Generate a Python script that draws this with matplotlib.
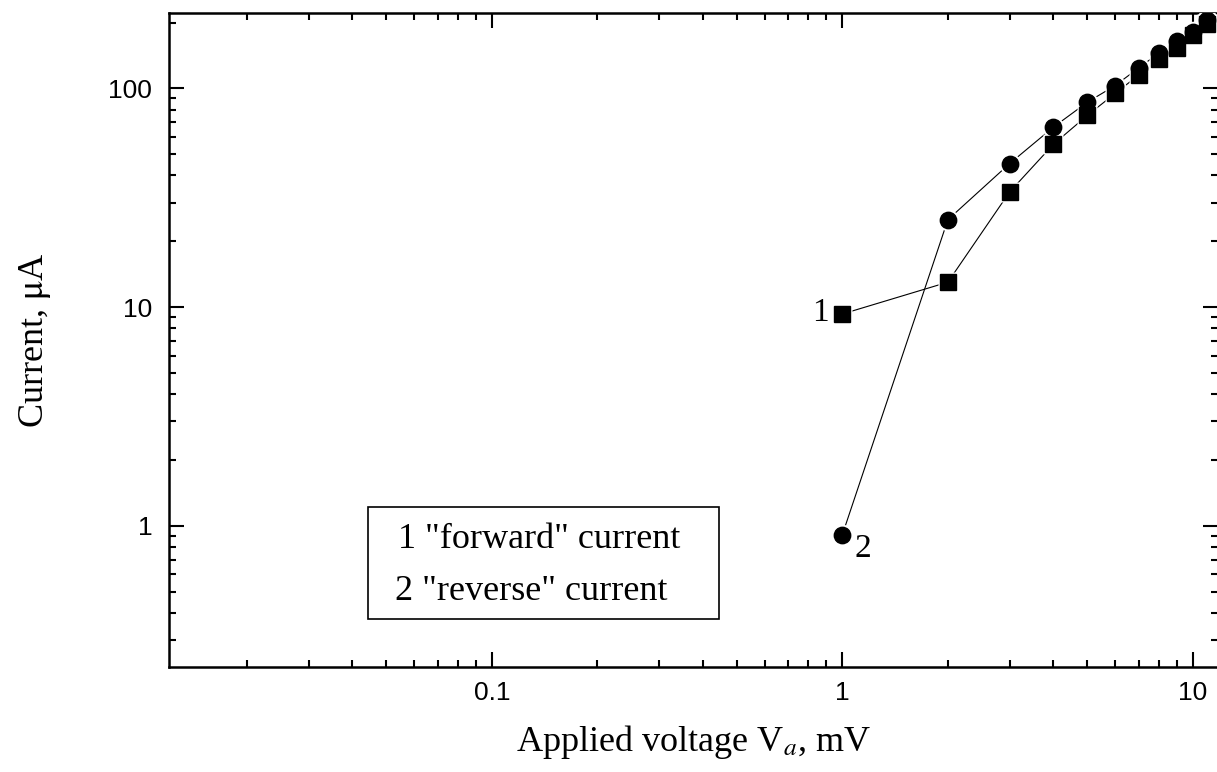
import numpy as np
import matplotlib
matplotlib.use("Agg")
import matplotlib.pyplot as plt
from matplotlib.patches import Rectangle
from matplotlib.ticker import LogLocator, NullFormatter, FuncFormatter

# Data
voltage = [1, 2, 3, 4, 5, 6, 7, 8, 9, 10, 11]          # mV
forward_current = [9.3, 13.0, 33.6, 55.5, 75.3, 94.8, 115, 136, 153, 176, 196]   # uA, curve 1
reverse_current = [0.91, 25.1, 45.3, 66.5, 86.5, 103, 124, 145, 164, 182, 205]   # uA, curve 2
legend_lines = ['1 "forward" current', '2 "reverse" current']
curve_labels = ['1', '2']

plt.rcParams['mathtext.fontset'] = 'stix'
serif = 'Liberation Serif'
sans = 'Liberation Sans'

fig = plt.figure(figsize=(12.17, 7.72), dpi=100)
ax = fig.add_axes([0.1389, 0.136, 0.862, 0.8476])

# thin connecting lines
ax.plot(voltage, forward_current, color='black', lw=0.8, zorder=2)
ax.plot(voltage, reverse_current, color='black', lw=0.8, zorder=2)
# white halos so the lines stop short of the symbols
ax.plot(voltage, forward_current, ls='none', marker='s', ms=15, mfc='white', mec='none', zorder=3)
ax.plot(voltage, reverse_current, ls='none', marker='o', ms=15.5, mfc='white', mec='none', zorder=3)
# symbols
ax.plot(voltage, forward_current, ls='none', marker='s', ms=11.5, mfc='black', mec='black', zorder=4)
ax.plot(voltage, reverse_current, ls='none', marker='o', ms=11.8, mfc='black', mec='black', zorder=5)

ax.set_xscale('log')
ax.set_yscale('log')
ax.set_xlim(0.012, 11.8)
ax.set_ylim(0.226, 222)

fmt = FuncFormatter(lambda v, p: ('%g' % v))
ax.xaxis.set_major_locator(LogLocator(base=10, numticks=10))
ax.yaxis.set_major_locator(LogLocator(base=10, numticks=10))
ax.xaxis.set_minor_locator(LogLocator(base=10, subs=np.arange(2, 10), numticks=20))
ax.yaxis.set_minor_locator(LogLocator(base=10, subs=np.arange(2, 10), numticks=20))
ax.xaxis.set_major_formatter(fmt)
ax.yaxis.set_major_formatter(fmt)
ax.xaxis.set_minor_formatter(NullFormatter())
ax.yaxis.set_minor_formatter(NullFormatter())

ax.tick_params(which='both', direction='in', top=True, right=True, width=1.5)
ax.tick_params(which='major', length=11, labelsize=19)
ax.tick_params(axis='x', which='major', pad=10)
ax.tick_params(axis='y', which='major', pad=12)
ax.tick_params(which='minor', length=5.3)
for lab in ax.get_xticklabels() + ax.get_yticklabels():
    lab.set_fontfamily(sans)
for sp in ax.spines.values():
    sp.set_linewidth(1.8)

ax.set_xlabel(r'Applied voltage V$_a$, mV', fontsize=26, family=serif, labelpad=13)
ax.set_ylabel(r'Current, $\mathrm{\mu}$A', fontsize=26, family=serif, labelpad=40)

# curve numbers next to the first points
ax.annotate(curve_labels[0], xy=(voltage[0], forward_current[0]), xytext=(-16, 1),
            textcoords='offset points', ha='center', va='center', fontsize=24, family=serif)
ax.annotate(curve_labels[1], xy=(voltage[0], reverse_current[0]), xytext=(15, -10),
            textcoords='offset points', ha='center', va='center', fontsize=24, family=serif)

# boxed key
ax.add_patch(Rectangle((0.19, 0.073), 0.334, 0.1715, transform=ax.transAxes,
                       fill=False, ec='black', lw=1.2, zorder=5))
ax.text(0.218, 0.195, legend_lines[0], transform=ax.transAxes, fontsize=26,
        family=serif, va='center', ha='left')
ax.text(0.215, 0.116, legend_lines[1], transform=ax.transAxes, fontsize=26,
        family=serif, va='center', ha='left')

fig.savefig('out.png', dpi=100)
